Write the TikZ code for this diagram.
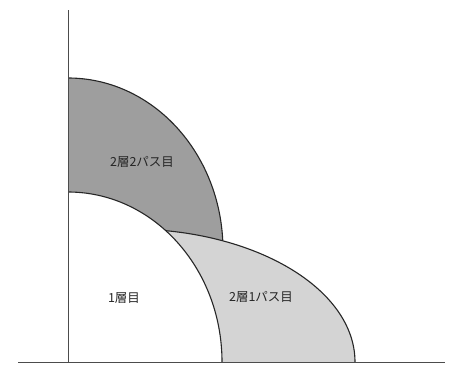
\documentclass[tikz,border=0pt]{standalone}
\usepackage{fontspec}
\newfontfamily\jpfont{Noto Sans CJK JP}
\usepackage{tikz}
\usetikzlibrary{positioning}
\usepackage{xcolor}

\begin{document}
\begin{tikzpicture}[
    x=1pt, y=1pt,
    axis/.style={draw=black!70, line width=0.9pt},
    bead/.style={draw=black!85, line width=1.1pt},
    pass2/.style={fill=black!38},
    pass1/.style={fill=black!17},
    layer1/.style={fill=white},
    label/.style={font=\jpfont\fontsize{12.5}{14}\selectfont, text=black!85, inner sep=0pt}
]
\useasboundingbox (0,0) rectangle (452,365);

% Fills
\begin{scope}
  \clip (68,3) rectangle (452,365);
  \fill[pass2] (68,3) -- (68,287) arc[start angle=90, end angle=3.3, x radius=155, y radius=172] -- (223,3) -- cycle;
  \fill[pass1] (355,3) arc[start angle=0, end angle=125, x radius=225, y radius=133] -- (18,3) -- cycle;
  \draw[bead] (355,3) arc[start angle=0, end angle=125, x radius=225, y radius=133];
  \draw[bead] (68,287) arc[start angle=90, end angle=3.3, x radius=155, y radius=172];
  \fill[layer1] (68,3) -- (68,173) arc[start angle=90, end angle=0, x radius=154, y radius=170] -- cycle;
  \draw[bead] (68,173) arc[start angle=90, end angle=0, x radius=154, y radius=170];
\end{scope}

% Axes
\draw[axis] (68,3) -- (68,355);
\draw[axis] (18,3) -- (445,3);

% Labels
\node[label] (l22) at (142,203) {2層2パス目};
\node[label] (l1) at (124,67) {1層目};
\node[label] (l21) at (261,68) {2層1パス目};

\end{tikzpicture}
\end{document}
